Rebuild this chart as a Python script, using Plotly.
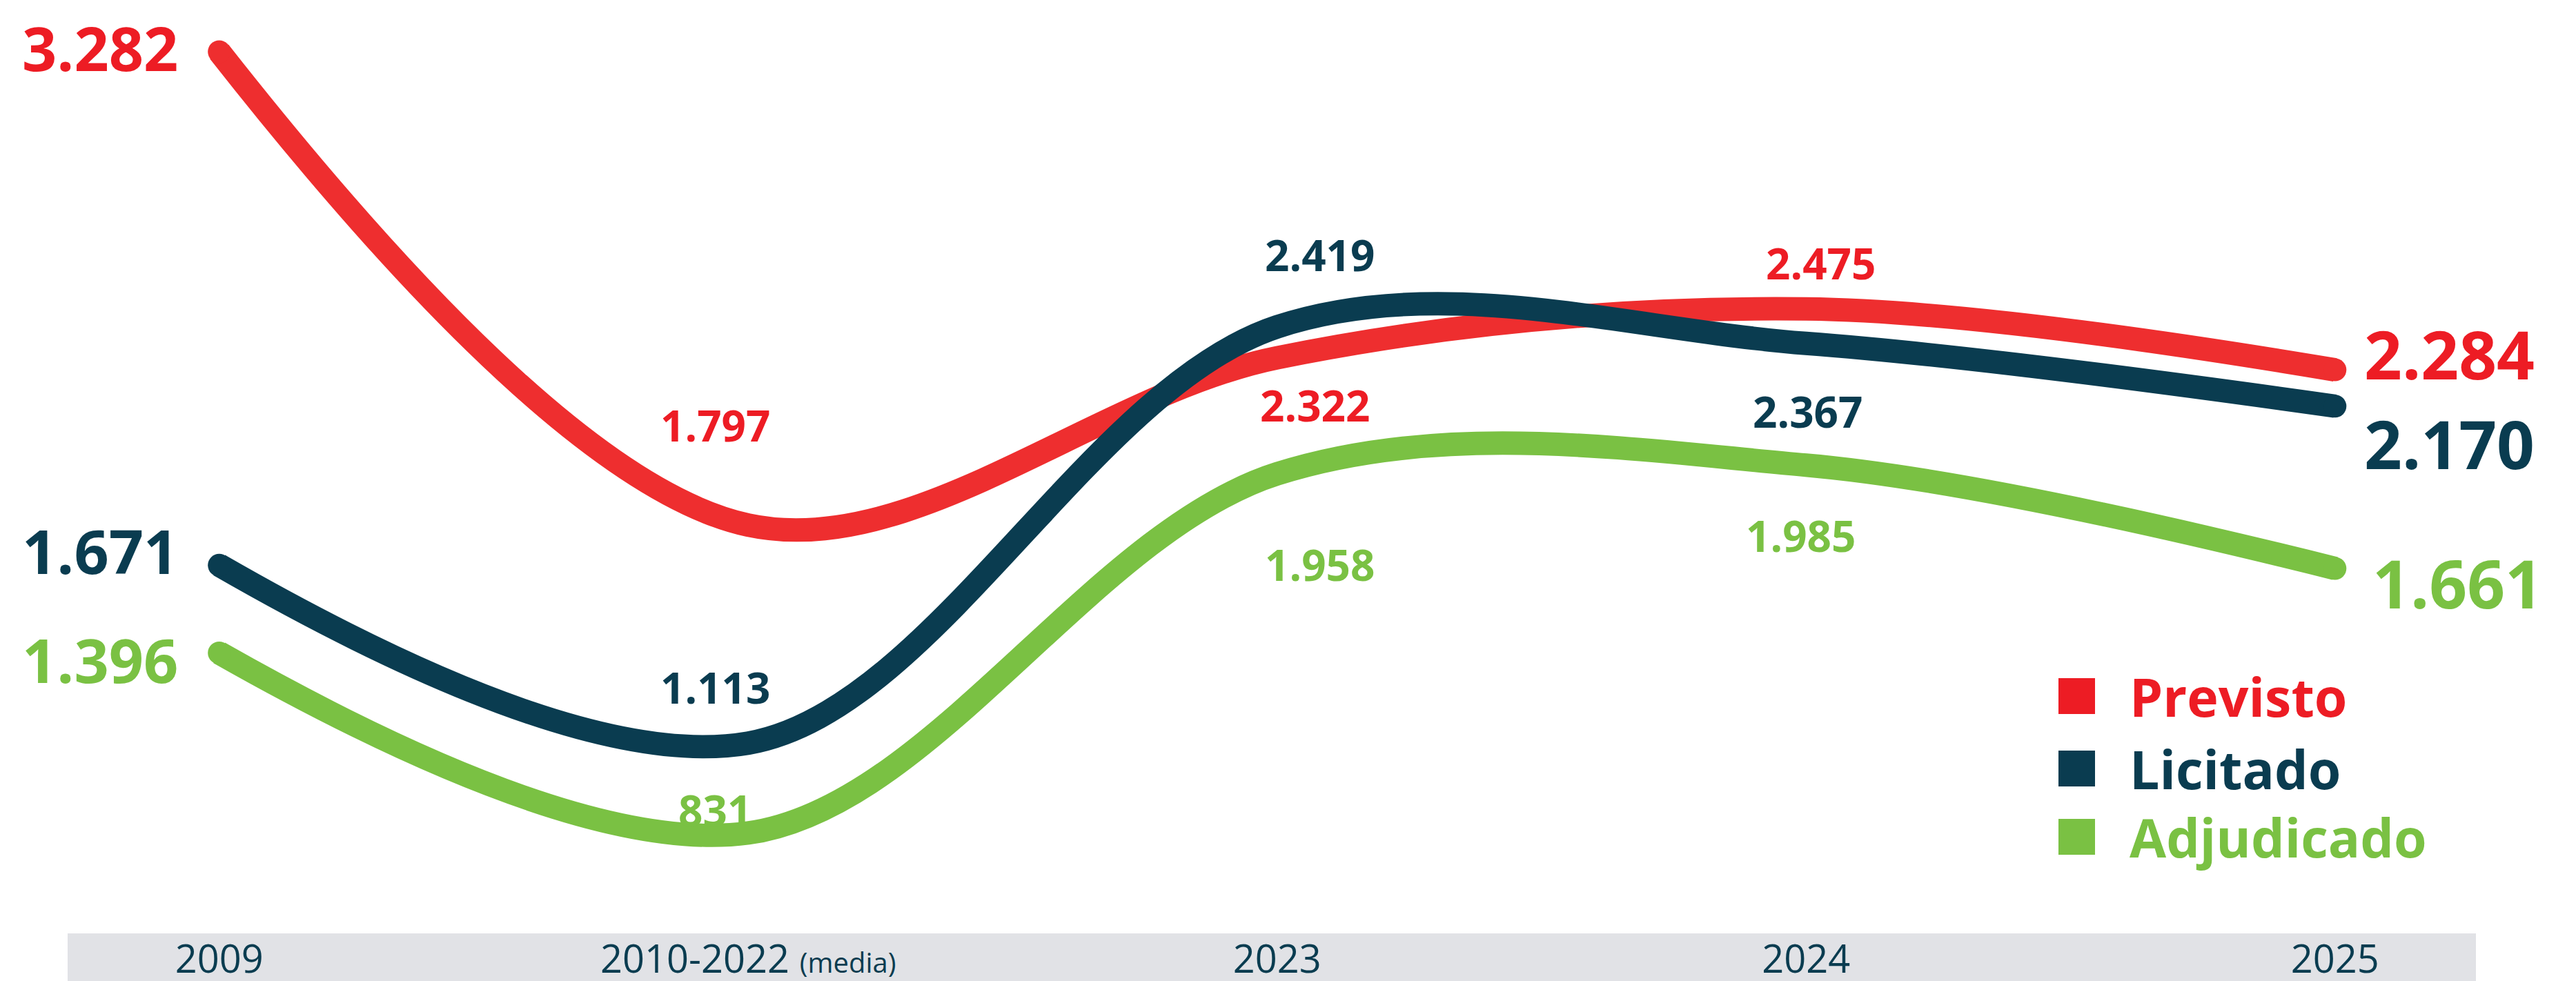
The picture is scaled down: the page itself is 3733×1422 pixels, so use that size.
import plotly.graph_objects as go

categories = ["2009", "2010-2022 <span style='font-size:40px'>(media)</span>", "2023", "2024", "2025"]
previsto = [3282, 1797, 2322, 2475, 2284]
licitado = [1671, 1113, 2419, 2367, 2170]
adjudicado = [1396, 831, 1958, 1985, 1661]
labels_prev = ["3.282", "1.797", "2.322", "2.475", "2.284"]
labels_lic = ["1.671", "1.113", "2.419", "2.367", "2.170"]
labels_adj = ["1.396", "831", "1.958", "1.985", "1.661"]
series_names = ["Previsto", "Licitado", "Adjudicado"]

RED_LINE = "#EE2E2F"
RED_TXT = "#ED1C24"
DARK = "#0A3C50"
GREEN = "#7AC143"
FONT = "Open Sans"

x = list(range(len(categories)))
fig = go.Figure()

for vals, col in [(previsto, RED_LINE), (licitado, DARK), (adjudicado, GREEN)]:
    fig.add_trace(go.Scatter(
        x=x, y=vals, mode="lines+markers",
        line=dict(color=col, width=34, shape="spline", smoothing=1.0),
        marker=dict(color=col, size=[33, 0, 0, 0, 33], opacity=1, line=dict(width=0)),
        opacity=1, hoverinfo="skip", showlegend=False))

ann = []
def lab(i, v, text, color, size, xshift, yshift, xanchor="center"):
    ann.append(dict(x=i, y=v, xref="x", yref="y", text=text, showarrow=False,
                    xanchor=xanchor, yanchor="middle", xshift=xshift, yshift=yshift,
                    font=dict(family=FONT, size=size, color=color, weight=700)))

# start labels (left)
lab(0, previsto[0], labels_prev[0], RED_TXT, 88, -288, 6, "left")
lab(0, licitado[0], labels_lic[0], DARK, 88, -288, 21, "left")
lab(0, adjudicado[0], labels_adj[0], GREEN, 88, -288, -10, "left")
# end labels (right)
lab(4, previsto[4], labels_prev[4], RED_TXT, 96, 40, 24, "left")
lab(4, licitado[4], labels_lic[4], DARK, 96, 40, -54, "left")
lab(4, adjudicado[4], labels_adj[4], GREEN, 96, 52, -21, "left")
# middle labels
lab(1, previsto[1], labels_prev[1], RED_TXT, 62, -48, 145)
lab(1, licitado[1], labels_lic[1], DARK, 62, -48, 81)
lab(1, adjudicado[1], labels_adj[1], GREEN, 62, -48, 33)
lab(2, licitado[2], labels_lic[2], DARK, 62, 62, 105)
lab(2, previsto[2], labels_prev[2], RED_TXT, 62, 55, -68)
lab(2, adjudicado[2], labels_adj[2], GREEN, 62, 62, -131)
lab(3, previsto[3], labels_prev[3], RED_TXT, 62, 21, 67)
lab(3, licitado[3], labels_lic[3], DARK, 62, 2, -98)
lab(3, adjudicado[3], labels_adj[3], GREEN, 62, -8, -102)

# legend (manual)
W, H_PLOT = 3733, 1345
legend_cols = [RED_TXT, DARK, GREEN]
legend_y = [1001, 1106, 1205]
shapes = []
for name, col, yc in zip(series_names, legend_cols, legend_y):
    shapes.append(dict(type="rect", xref="paper", yref="paper",
                       x0=2975 / W, x1=3028 / W,
                       y0=(H_PLOT - (yc + 26)) / H_PLOT, y1=(H_PLOT - (yc - 26)) / H_PLOT,
                       fillcolor=col, line=dict(width=0)))
    ann.append(dict(x=3076 / W, y=(H_PLOT - yc) / H_PLOT, xref="paper", yref="paper",
                    text=name, showarrow=False, xanchor="left", yanchor="middle",
                    font=dict(family=FONT, size=77, color=col, weight=700)))

# grey band behind x tick labels
shapes.append(dict(type="rect", xref="paper", yref="paper", x0=90 / W, x1=3580 / W,
                   y0=-77 / H_PLOT, y1=0, fillcolor="#E1E2E6", line=dict(width=0),
                   layer="below"))

fig.update_layout(
    width=3733, height=1422,
    margin=dict(l=0, r=0, t=0, b=77),
    paper_bgcolor="white", plot_bgcolor="white",
    xaxis=dict(range=[-0.404, 4.466], tickmode="array", tickvals=x, ticktext=categories,
               showgrid=False, zeroline=False, showline=False, ticks="",
               tickfont=dict(family=FONT, size=56, color=DARK, weight=400)),
    yaxis=dict(range=[516, 3427], visible=False, showgrid=False, zeroline=False),
    annotations=ann, shapes=shapes,
)
fig.write_html("out.html")
